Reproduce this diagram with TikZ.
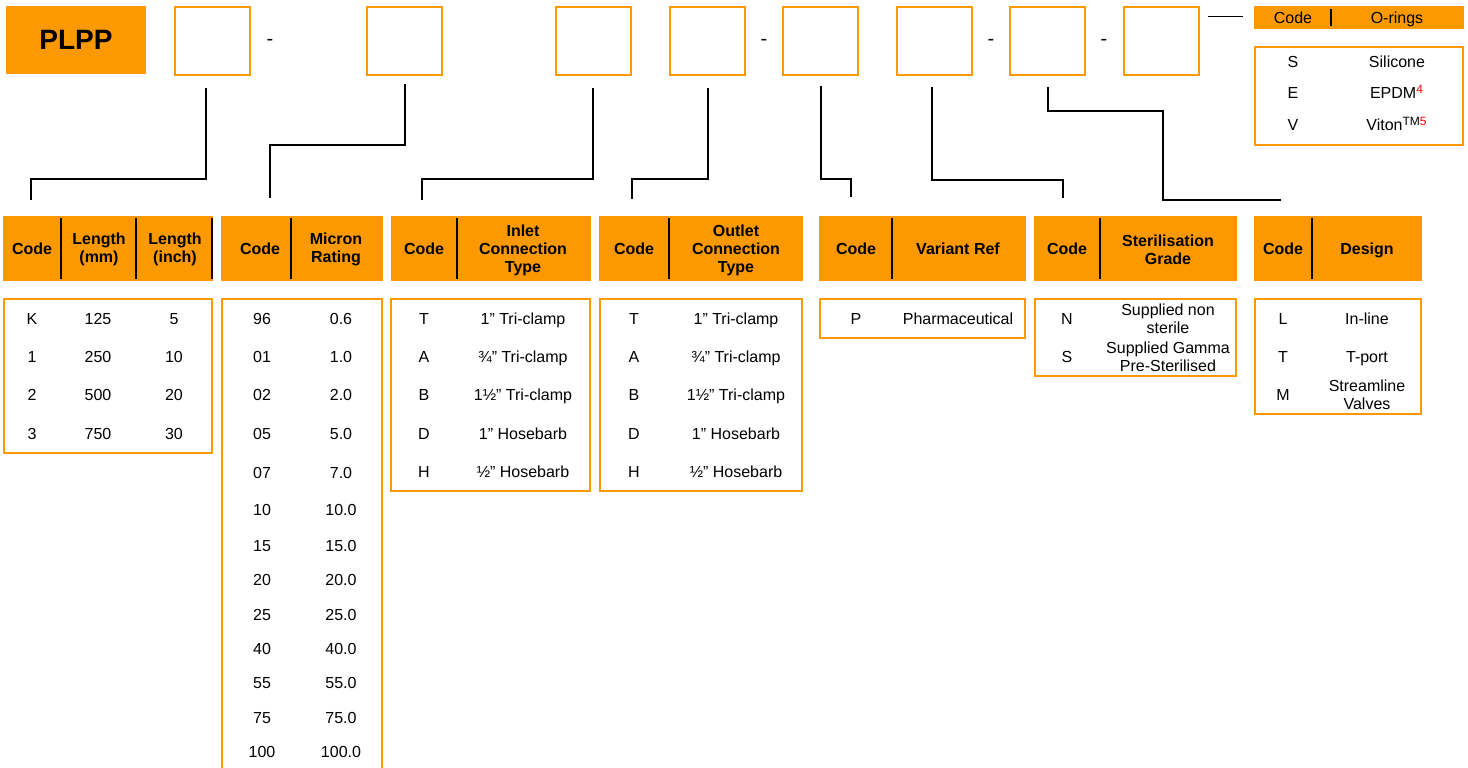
\documentclass[tikz,border=0pt]{standalone}
\usepackage{fontspec}
\setmainfont{Liberation Sans}
\usepackage{xcolor}
\usetikzlibrary{positioning,calc}
\definecolor{plorange}{RGB}{252,153,0}

\tikzset{
  slotbox/.style={draw=plorange, line width=1pt, minimum width=37.5pt, minimum height=34pt, inner sep=0pt},
  hdrbox/.style={fill=plorange, inner sep=0pt, minimum height=32.5pt},
  bodyline/.style={draw=plorange, line width=1pt},
  divider/.style={draw=black, line width=1pt},
  link/.style={draw=black, line width=0.9pt},
  cellm/.style={inner sep=0pt, align=center, font=\fontsize{8}{9}\selectfont},
  cell/.style={cellm, text height=5.8pt, text depth=0pt},
  headm/.style={inner sep=0pt, align=center, font=\bfseries\fontsize{8}{9}\selectfont},
  head/.style={headm, text height=5.8pt, text depth=0pt},
}

\begin{document}
\begin{tikzpicture}[x=0.5pt, y=-0.5pt]
  \useasboundingbox (0,0) rectangle (1468,767);

  % part number boxes
  \node[fill=plorange, minimum width=70pt, minimum height=34pt, inner sep=0pt,
        font=\bfseries\fontsize{14}{16}\selectfont] (plpp) at (76,40) {PLPP};
  \node[slotbox] (b1) at (212.5,41) {};
  \node[slotbox] (b2) at (404.5,41) {};
  \node[slotbox] (b3) at (593.5,41) {};
  \node[slotbox] (b4) at (707,41) {};
  \node[slotbox] (b5) at (820.5,41) {};
  \node[slotbox] (b6) at (934,41) {};
  \node[slotbox] (b7) at (1047,41) {};
  \node[slotbox] (b8) at (1161,41) {};
  \node[cellm, font=\fontsize{10}{12}\selectfont] (d1) at (270,42) {-};
  \node[cellm, font=\fontsize{10}{12}\selectfont] (d2) at (764,42) {-};
  \node[cellm, font=\fontsize{10}{12}\selectfont] (d3) at (991,42) {-};
  \node[cellm, font=\fontsize{10}{12}\selectfont] (d4) at (1104,42) {-};

  % O-rings
  \node[fill=plorange, inner sep=0pt, minimum width=105pt, minimum height=11.5pt] (oh) at (1359,17.5) {};
  \draw[divider] (1331,9) -- (1331,26);
  \node[cell] (ohc) at (1293,17.5) {Code};
  \node[cell] (ohd) at (1397,17.5) {O-rings};
  \draw[bodyline] (1255,47) rectangle (1463,145);
  \node[cell] (o1c) at (1293,62) {S};
  \node[cell] (o1d) at (1397,62) {Silicone};
  \node[cell] (o2c) at (1293,93) {E};
  \node[cell] (o2d) at (1397,93) {EPDM\textsuperscript{\color{red}4}};
  \node[cell] (o3c) at (1293,125) {V};
  \node[cell] (o3d) at (1397,125) {Viton\textsuperscript{TM\color{red}5}};
  \draw[link] ($(b8.east)+(8,-24.5)$) -- ($(oh.west)+(-11,-1)$);

  % headers
  \node[hdrbox, minimum width=105pt] (h1) at (108,248.5) {};
  \node[hdrbox, minimum width=81pt] (h2) at (302,248.5) {};
  \node[hdrbox, minimum width=100pt] (h3) at (491,248.5) {};
  \node[hdrbox, minimum width=102pt] (h4) at (701,248.5) {};
  \node[hdrbox, minimum width=103.5pt] (h5) at (922.5,248.5) {};
  \node[hdrbox, minimum width=101.5pt] (h6) at (1135.5,248.5) {};
  \node[hdrbox, minimum width=84pt] (h7) at (1338,248.5) {};
  \foreach \x in {61,136,212,291,457,669,892,1100,1312}
    \draw[divider] (\x,218) -- (\x,279);

  \node[head] (h1a) at (32,248.5) {Code};
  \node[headm] (h1b) at (99,249.5) {Length\\(mm)};
  \node[headm] (h1c) at (175,249.5) {Length\\(inch)};
  \node[head] (h2a) at (260,248.5) {Code};
  \node[headm] (h2b) at (336,249.5) {Micron\\Rating};
  \node[head] (h3a) at (424,248.5) {Code};
  \node[headm] (h3b) at (523,250.5) {Inlet\\Connection\\Type};
  \node[head] (h4a) at (634,248.5) {Code};
  \node[headm] (h4b) at (736,250.5) {Outlet\\Connection\\Type};
  \node[head] (h5a) at (856,248.5) {Code};
  \node[head] (h5b) at (958,248.5) {Variant Ref};
  \node[head] (h6a) at (1067,248.5) {Code};
  \node[headm] (h6b) at (1168,249.5) {Sterilisation\\Grade};
  \node[head] (h7a) at (1283,248.5) {Code};
  \node[head] (h7b) at (1367,248.5) {Design};

  % bodies
  \draw[bodyline] (4,299) rectangle (212,453);
  \draw[bodyline] (222,299) rectangle (382,775);
  \draw[bodyline] (391,299) rectangle (590,491);
  \draw[bodyline] (600,299) rectangle (802,491);
  \draw[bodyline] (820,299) rectangle (1025,338);
  \draw[bodyline] (1035,299) rectangle (1236,376);
  \draw[bodyline] (1255,299) rectangle (1421,414);

  \foreach \y/\c/\mm/\inch [count=\i] in {319/K/125/5, 357/1/250/10, 395/2/500/20, 434/3/750/30} {
    \node[cell] (l\i c) at (32,\y) {\c};
    \node[cell] (l\i m) at (98,\y) {\mm};
    \node[cell] (l\i i) at (174,\y) {\inch};
  }
  \foreach \y/\c/\r [count=\i] in {319/96/0.6, 357/01/1.0, 395/02/2.0, 434/05/5.0,
      473/07/7.0, 510/10/10.0, 546/15/15.0, 580/20/20.0, 615/25/25.0,
      649/40/40.0, 683/55/55.0, 718/75/75.0, 752/100/100.0} {
    \node[cell] (m\i c) at (262,\y) {\c};
    \node[cell] (m\i r) at (341,\y) {\r};
  }
  \foreach \y/\c/\t [count=\i] in {319/T/1” Tri-clamp, 357/A/¾” Tri-clamp,
      395/B/1½” Tri-clamp, 434/D/1” Hosebarb, 472/H/½" Hosebarb} {
    \node[cell] (in\i c) at (424,\y) {\c};
    \node[cell] (in\i t) at (523,\y) {\t};
    \node[cell] (out\i c) at (634,\y) {\c};
    \node[cell] (out\i t) at (736,\y) {\t};
  }
  \node[cell] (v1c) at (856,319) {P};
  \node[cell] (v1t) at (958,319) {Pharmaceutical};
  \node[cell] (s1c) at (1067,319) {N};
  \node[cellm] (s1t) at (1168,319) {Supplied non\\sterile};
  \node[cell] (s2c) at (1067,357) {S};
  \node[cellm] (s2t) at (1168,357) {Supplied Gamma\\Pre-Sterilised};
  \node[cell] (g1c) at (1283,319) {L};
  \node[cell] (g1t) at (1367,319) {In-line};
  \node[cell] (g2c) at (1283,357) {T};
  \node[cell] (g2t) at (1367,357) {T-port};
  \node[cell] (g3c) at (1283,395) {M};
  \node[cellm] (g3t) at (1367,395) {Streamline\\Valves};

  % leader lines
  \coordinate (e1) at (31,200);
  \coordinate (e2) at (270,198);
  \coordinate (e3) at (422,200);
  \coordinate (e4) at (632,199);
  \coordinate (e5) at (851,197);
  \coordinate (e6) at (1063,198);
  \coordinate (e7) at (1281,200);
  \draw[link] ($(b1.south)+(-6.5,12)$) |- (31,179) -- (e1);
  \draw[link] ($(b2.south)+(0.5,8)$) |- (270,145) -- (e2);
  \draw[link] ($(b3.south)+(-0.5,12)$) |- (422,179) -- (e3);
  \draw[link] ($(b4.south)+(1,12)$) |- (632,179) -- (e4);
  \draw[link] ($(b5.south)+(0.5,10)$) |- (851,179) -- (e5);
  \draw[link] ($(b6.south)+(-2,11)$) |- (1063,180) -- (e6);
  \draw[link] ($(b7.south)+(1,11)$) |- (1163,111) |- (e7);
\end{tikzpicture}
\end{document}
